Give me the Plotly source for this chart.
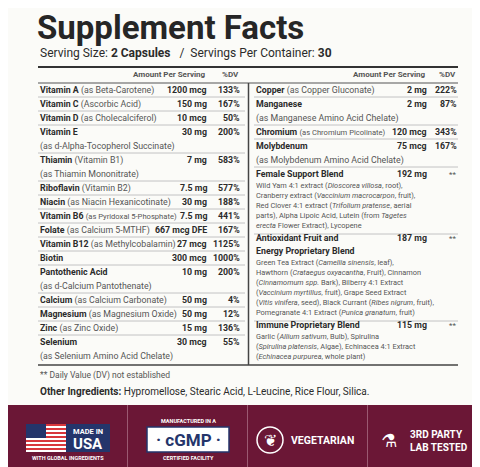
import plotly.graph_objects as go

# ── Data ─────────────────────────────────────────────────────────────────────
title = "Supplement Facts"
serving_size = "2 Capsules"
servings_per_container = "30"

left_names   = ["Vitamin A", "Vitamin C", "Vitamin D", "Vitamin E", "Thiamin", "Riboflavin",
                "Niacin", "Vitamin B6", "Folate", "Vitamin B12", "Biotin", "Pantothenic Acid",
                "Calcium", "Magnesium", "Zinc", "Selenium"]
left_sources = ["(as Beta-Carotene)", "(Ascorbic Acid)", "(as Cholecalciferol)",
                "(as d-Alpha-Tocopherol Succinate)", "(Vitamin B1)|(as Thiamin Mononitrate)",
                "(Vitamin B2)", "(as Niacin Hexanicotinate)", "(as Pyridoxal 5-Phosphate)",
                "(as Calcium 5-MTHF)", "(as Methylcobalamin)", "", "(as d-Calcium Pantothenate)",
                "(as Calcium Carbonate)", "(as Magnesium Oxide)", "(as Zinc Oxide)",
                "(as Selenium Amino Acid Chelate)"]
left_wrap    = [0, 0, 0, 1, 1, 0, 0, 0, 0, 0, 0, 1, 0, 0, 0, 1]
left_amounts = ["1200 mcg", "150 mg", "10 mcg", "30 mg", "7 mg", "7.5 mg", "30 mg", "7.5 mg",
                "667 mcg DFE", "27 mcg", "300 mcg", "10 mg", "50 mg", "50 mg", "15 mg", "30 mcg"]
left_dv      = ["133%", "167%", "50%", "200%", "583%", "577%", "188%", "441%", "167%",
                "1125%", "1000%", "200%", "4%", "12%", "136%", "55%"]

right_names   = ["Copper", "Manganese", "Chromium", "Molybdenum"]
right_sources = ["(as Copper Gluconate)", "(as Manganese Amino Acid Chelate)",
                 "(as Chromium Picolinate)", "(as Molybdenum Amino Acid Chelate)"]
right_wrap    = [0, 1, 0, 1]
right_amounts = ["2 mg", "2 mg", "120 mcg", "75 mcg"]
right_dv      = ["222%", "87%", "343%", "167%"]

blend_names   = ["Female Support Blend", "Antioxidant Fruit and|Energy Proprietary Blend",
                 "Immune Proprietary Blend"]
blend_amounts = ["192 mg", "187 mg", "115 mg"]
blend_details = [
    ["Wild Yam 4:1 extract (<i>Dioscorea villosa</i>, root),",
     "Cranberry extract (<i>Vaccinium macrocarpon</i>, fruit),",
     "Red Clover 4:1 extract (<i>Trifolium pratense</i>, aerial",
     "parts), Alpha Lipoic Acid, Lutein (from <i>Tagetes</i>",
     "<i>erecta</i> Flower Extract), Lycopene"],
    ["Green Tea Extract (<i>Camellia sinensis</i>, leaf),",
     "Hawthorn (<i>Crataegus oxyacantha</i>, Fruit), Cinnamon",
     "(<i>Cinnamomum spp.</i> Bark), Bilberry 4:1 Extract",
     "(<i>Vaccinium myrtillus</i>, fruit), Grape Seed Extract",
     "(<i>Vitis vinifera</i>, seed), Black Currant (<i>Ribes nigrum</i>, fruit),",
     "Pomegranate 4:1 Extract (<i>Punica granatum</i>, fruit)"],
    ["Garlic (<i>Allium sativum</i>, Bulb), Spirulina",
     "(<i>Spirulina platensis</i>, Algae), Echinacea 4:1 Extract",
     "(<i>Echinacea purpurea</i>, whole plant)"],
]

footnote = "** Daily Value (DV) not established"
other_ingredients = "Hypromellose, Stearic Acid, L-Leucine, Rice Flour, Silica."
badges = ["MADE IN USA", "cGMP", "VEGETARIAN", "3RD PARTY LAB TESTED"]

# ── Figure ───────────────────────────────────────────────────────────────────
FONT = "Roboto, sans-serif"
DARK, GREY, BG, MAROON = "#2b2b2b", "#555555", "#fbfbf8", "#6b1736"
FS = 8.8
shapes, ann = [], []

def text(x, y, s, size=FS, color=DARK, anchor="left", family=FONT):
    ann.append(dict(x=x, y=y, text=s, showarrow=False, xanchor=anchor, yanchor="middle",
                    font=dict(size=size, color=color, family=family)))

def line(x0, y0, x1, y1, w=1, color="#9a9a9a"):
    shapes.append(dict(type="line", x0=x0, y0=y0, x1=x1, y1=y1,
                       line=dict(color=color, width=w)))

def rect(x0, y0, x1, y1, fill, lw=0, lc=None):
    shapes.append(dict(type="rect", x0=x0, y0=y0, x1=x1, y1=y1, fillcolor=fill,
                       line=dict(width=lw, color=lc or fill)))

def src(s, long_):
    size = "font-size:7.6px;" if long_ else ""
    return f"<span style='color:{GREY};{size}'>{s}</span>"

text(27, 19, "<b>" + title + "</b>", size=33, color="#262626")
text(30, 45, f"Serving Size: <b>{serving_size}</b>   /  Servings Per Container: <b>{servings_per_container}</b>",
     size=12)
line(30, 59, 450, 59, w=2, color="#333")
for xa, xd in [(200, 233), (420, 450)]:
    text(xa, 66, "<b>Amount Per Serving</b>", size=8, color=GREY, anchor="right")
    text(xd, 66, "<b>%DV</b>", size=8, color=GREY, anchor="right")
line(30, 75, 450, 75, w=1.2, color="#555")
line(240.5, 75, 240.5, 357, w=1.5, color="#444")
line(30, 357, 450, 357, w=1.5, color="#444")

RH = 14
y = 82
for n, s, w, a, d in zip(left_names, left_sources, left_wrap, left_amounts, left_dv):
    parts = s.split("|") if "|" in s else [s]
    long_ = len(n) + len(s) + len(a) > 40
    if w and len(parts) == 1:
        text(30, y, f"<b>{n}</b>")
        text(30, y + RH, src(parts[0], False))
    elif w:
        text(30, y, f"<b>{n}</b> " + src(parts[0], False))
        text(30, y + RH, src(parts[1], False))
    else:
        text(30, y, f"<b>{n}</b> " + src(s, long_))
    text(201, y, f"<b>{a}</b>", anchor="right")
    text(234, y, f"<b>{d}</b>", anchor="right")
    y += RH * (1 + w)
    if y < 350:
        line(30, y - RH / 2, 237, y - RH / 2, w=0.8, color="#b5b5b5")

y = 82
for n, s, w, a, d in zip(right_names, right_sources, right_wrap, right_amounts, right_dv):
    if w:
        text(246, y, f"<b>{n}</b>")
        text(246, y + RH, src(s, False))
    else:
        text(246, y, f"<b>{n}</b> " + src(s, len(n) + len(s) + len(a) > 36))
    text(421, y, f"<b>{a}</b>", anchor="right")
    text(451, y, f"<b>{d}</b>", anchor="right")
    y += RH * (1 + w)
    line(246, y - RH / 2, 450, y - RH / 2, w=0.8, color="#b5b5b5")

for i, (n, a, det) in enumerate(zip(blend_names, blend_amounts, blend_details)):
    parts = n.split("|")
    text(246, y, f"<b>{parts[0]}</b>")
    text(421, y, f"<b>{a}</b>", anchor="right")
    text(450, y, "**", size=8, color=GREY, anchor="right")
    if len(parts) > 1:
        y += 13
        text(246, y, f"<b>{parts[1]}</b>")
    y += 11
    for dl in det:
        text(246, y, dl, size=7.4, color=GREY)
        y += 10
    y += 3
    if i < len(blend_names) - 1:
        line(246, y - 4, 450, y - 4, w=0.8, color="#b5b5b5")

text(30, 367, footnote, size=8.5, color=GREY)
text(30, 383, f"<b>Other Ingredients:</b> {other_ingredients}", size=10)

# badge band
rect(0, 397, 480, 467, MAROON)
for xd in [119.5, 239.5, 359.5]:
    line(xd, 397, xd, 467, w=1, color="#9b5a72")
# flag
for k in range(7):
    rect(18, 416 + k * 4, 60, 418 + k * 4, "#d8363c")
    rect(18, 418 + k * 4, 60, 420 + k * 4, "#ffffff")
rect(18, 416, 38, 430, "#24356b")
rect(58, 416, 102, 444, "#24356b")
text(80, 423, "<b>MADE IN</b>", size=7.5, color="white", anchor="center")
text(80, 436, "<b>" + badges[0].split()[-1] + "</b>", size=15, color="white", anchor="center")
text(60, 450, "<b>WITH GLOBAL INGREDIENTS</b>", size=5.5, color="white", anchor="center")
# cGMP
text(180, 413, "<b>MANUFACTURED IN A</b>", size=5.5, color="white", anchor="center")
rect(139, 419, 221, 444, "white", lw=1.5, lc="#24356b")
text(180, 432, "<b>· " + badges[1] + " ·</b>", size=17, color="#24356b", anchor="center")
text(180, 450, "<b>CERTIFIED FACILITY</b>", size=5.5, color="white", anchor="center")
# vegetarian
shapes.append(dict(type="circle", x0=249, y0=419, x1=275, y1=445, line=dict(color="white", width=1.5)))
text(262, 432, "❦", size=16, color="white", anchor="center", family="DejaVu Sans")
text(281, 432, "<b>" + badges[2] + "</b>", size=10.5, color="white")
# lab tested
text(381, 432, "⚗", size=18, color="white", anchor="center", family="DejaVu Sans")
text(400, 426, "<b>3RD PARTY</b>", size=10, color="white")
text(400, 439, "<b>LAB TESTED</b>", size=10, color="white")

fig = go.Figure()
fig.update_layout(
    width=480, height=467, margin=dict(l=0, r=0, t=0, b=0),
    paper_bgcolor=BG, plot_bgcolor=BG, showlegend=False,
    xaxis=dict(range=[0, 480], visible=False, fixedrange=True),
    yaxis=dict(range=[467, 0], visible=False, fixedrange=True),
    shapes=shapes, annotations=ann,
)
fig.write_html("out.html")
